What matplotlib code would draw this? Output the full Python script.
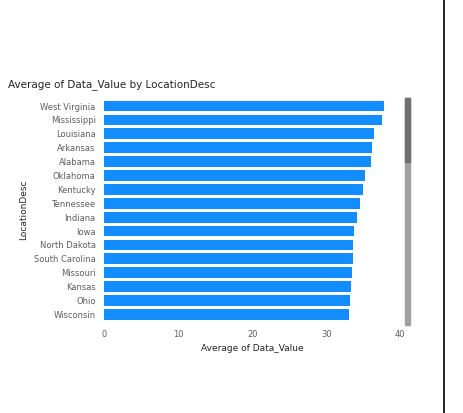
import matplotlib
matplotlib.use("Agg")
import matplotlib.pyplot as plt
from matplotlib.patches import Rectangle
from matplotlib.lines import Line2D

states = ["West Virginia","Mississippi","Louisiana","Arkansas","Alabama","Oklahoma","Kentucky",
          "Tennessee","Indiana","Iowa","North Dakota","South Carolina","Missouri","Kansas","Ohio","Wisconsin"]
values = [37.8,37.5,36.5,36.2,36.1,35.3,35.0,34.6,34.1,33.8,33.6,33.6,33.5,33.4,33.2,33.1]
xticks = [0,10,20,30,40]

fig = plt.figure(figsize=(4.63,4.13), dpi=100)
ax = fig.add_axes([0.2246,0.222,0.64,0.538])
ax.barh(range(len(states)), values, color="#118DFF", height=0.78)
ax.set_yticks(range(len(states)))
ax.set_yticklabels(states, fontsize=6, color="#605E5C")
ax.set_ylim(len(states)-0.5, -0.5)
ax.set_xlim(0,40)
ax.set_xticks(xticks)
ax.set_xticklabels([str(t) for t in xticks], fontsize=6, color="#605E5C")
ax.tick_params(length=0, pad=6)
for s in ax.spines.values():
    s.set_visible(False)
ax.set_xlabel("Average of Data_Value", fontsize=6.5, color="#252423")
ax.set_ylabel("LocationDesc", fontsize=6.5, color="#252423")
fig.text(8/463, 1-85/413, "Average of Data_Value by LocationDesc", fontsize=7.5, color="#252423", va="center")
# scrollbar
fig.patches.append(Rectangle((405/463, 1-325/413), 5/463, 227/413, transform=fig.transFigure, color="#A0A0A0"))
fig.patches.append(Rectangle((405/463, 1-162/413), 5/463, 64/413, transform=fig.transFigure, color="#707070"))
fig.lines.append(Line2D([444/463,444/463],[0,1], transform=fig.transFigure, color="black", lw=1.2))
fig.savefig("out.png", dpi=100)
